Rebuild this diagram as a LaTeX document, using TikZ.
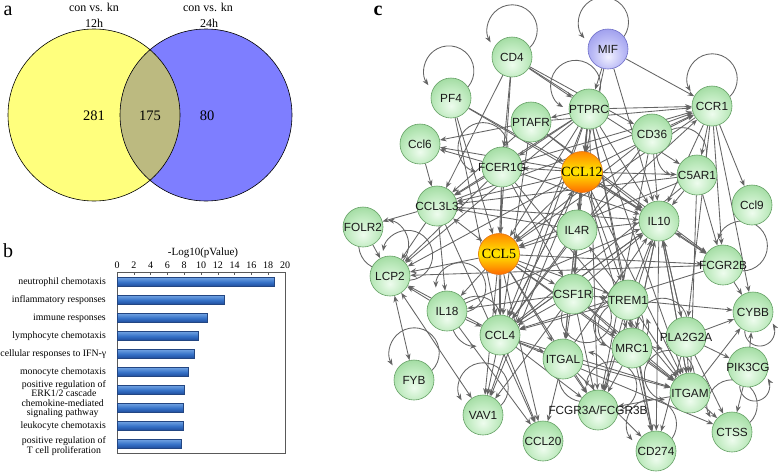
\documentclass[tikz,border=0pt]{standalone}
\usepackage{fontspec}
\setmainfont{Liberation Serif}
\newfontfamily\arialf{Liberation Sans}
\usetikzlibrary{arrows.meta,calc}
\definecolor{edgec}{RGB}{100,100,100}
\definecolor{gc0}{RGB}{238,252,238}
\definecolor{gc1}{RGB}{190,234,190}
\definecolor{gc2}{RGB}{136,206,136}
\definecolor{gborder}{RGB}{100,160,100}
\definecolor{bc0}{RGB}{240,240,255}
\definecolor{bc1}{RGB}{185,185,245}
\definecolor{bc2}{RGB}{135,135,230}
\definecolor{bborder}{RGB}{110,110,200}
\definecolor{otop}{RGB}{255,135,0}
\definecolor{omid}{RGB}{255,232,0}
\definecolor{obot}{RGB}{255,105,0}
\definecolor{oborder}{RGB}{225,115,20}
\definecolor{vyellow}{RGB}{255,255,125}
\definecolor{vblue}{RGB}{126,126,255}
\definecolor{volive}{RGB}{188,186,128}
\definecolor{barlight}{RGB}{110,160,225}
\definecolor{barmid}{RGB}{55,115,200}
\definecolor{bardark}{RGB}{30,75,155}
\definecolor{barborder}{RGB}{35,70,130}
\pgfdeclareradialshading{gball}{\pgfpoint{0bp}{-10bp}}{color(0bp)=(gc0); color(20bp)=(gc1); color(42bp)=(gc2); color(70bp)=(gc2)}
\pgfdeclareradialshading{bball}{\pgfpoint{0bp}{-10bp}}{color(0bp)=(bc0); color(20bp)=(bc1); color(42bp)=(bc2); color(70bp)=(bc2)}
\pgfdeclarelayer{bg}
\pgfsetlayers{bg,main}
\tikzset{
  edge/.style={draw=edgec, line width=0.85pt, -{Stealth[length=6.5pt,width=5pt]}},
  bedge/.style={draw=edgec, line width=0.85pt, {Stealth[length=6.5pt,width=5pt]}-{Stealth[length=6.5pt,width=5pt]}},
  lab/.style={font=\arialf\fontsize{11.8}{12}\selectfont, text=black!90, inner sep=0pt},
  slab/.style={font=\fontsize{14}{14}\selectfont, text=black, inner sep=0pt},
  gnode/.style={circle, minimum size=40pt, inner sep=0pt, draw=gborder, line width=0.6pt, shading=gball, label={[lab]center:#1}},
  bnode/.style={circle, minimum size=40pt, inner sep=0pt, draw=bborder, line width=0.6pt, shading=bball, label={[lab]center:#1}},
  onode/.style={circle, minimum size=41pt, inner sep=0pt, draw=oborder, line width=0.6pt, top color=otop, bottom color=obot, middle color=omid, label={[slab]center:#1}},
  vtxt/.style={font=\fontsize{12}{12}\selectfont, inner sep=0pt},
  vnum/.style={font=\fontsize{14.5}{14.5}\selectfont, inner sep=0pt},
  blab/.style={font=\fontsize{9.8}{9.6}\selectfont, inner sep=0pt, align=center, anchor=east},
  tlab/.style={font=\fontsize{10}{10}\selectfont, inner sep=0pt},
  plabel/.style={font=\fontsize{20}{20}\selectfont, inner sep=0pt, anchor=base},
}
\begin{document}
\begin{tikzpicture}[x=1pt,y=1pt]
\useasboundingbox (0,0) rectangle (778,-472);
\begin{pgfonlayer}{bg}
\fill[white] (0,0) rectangle (778,-472);
\end{pgfonlayer}
% ---------- panel a ----------
\node[plabel] (la) at (8,-15) {a};
\fill[vyellow] (94,-115) circle (86);
\fill[vblue] (206,-115) circle (86);
\begin{scope}
  \clip (94,-115) circle (86);
  \fill[volive] (206,-115) circle (86);
\end{scope}
\draw[line width=0.6pt] (94,-115) circle (86);
\draw[line width=0.6pt] (206,-115) circle (86);
\node[vtxt] (ta1) at (94,-7) {con vs. kn};
\node[vtxt] (ta2) at (94,-23) {12h};
\node[vtxt] (tb1) at (208,-7) {con vs. kn};
\node[vtxt] (tb2) at (209,-23) {24h};
\node[vnum] (n1) at (94,-116) {281};
\node[vnum] (n2) at (150,-116) {175};
\node[vnum] (n3) at (207,-116) {80};
% ---------- panel b ----------
\node[plabel] (lb) at (8,-257) {b};
\node[font=\fontsize{11}{11}\selectfont, inner sep=0pt] (axt) at (203,-253) {-Log10(pValue)};
\foreach \t in {0,2,...,20}{
  \node[tlab] at ({117+8.4*\t},-265) {\t};
  \draw[gray!70!black, line width=0.5pt] ({117+8.4*\t},-272) -- ++(0,-2.5);
}
\draw[gray!70!black, line width=0.6pt] (117,-272) rectangle (285,-453);
\foreach \v/\y in {18.7/282, 12.8/300, 10.7/318, 9.7/336, 9.2/354, 8.5/372, 8.0/390, 7.9/408, 7.9/426, 7.6/444}{
  \shade[top color=barlight, bottom color=bardark, middle color=barmid, draw=barborder, line width=0.4pt] (117,{-\y+4.4}) rectangle ({117+8.4*\v},{-\y-4.4});
}
\node[blab] (b1) at (106,-282) {neutrophil chemotaxis};
\node[blab] (b2) at (106,-300) {inflammatory responses};
\node[blab] (b3) at (106,-318) {immune responses};
\node[blab] (b4) at (106,-336) {lymphocyte chemotaxis};
\node[blab] (b5) at (106.5,-354) {cellular responses to IFN-γ};
\node[blab] (b6) at (106,-372) {monocyte chemotaxis};
\node[blab] (b7) at (106,-388.5) {positive regulation of\\ERK1/2 cascade};
\node[blab] (b8) at (104,-408.5) {chemokine-mediated\\signaling pathway};
\node[blab] (b9) at (106,-426) {leukocyte chemotaxis};
\node[blab] (b10) at (106,-446) {positive regulation of\\T cell proliferation};
% ---------- panel c ----------
\node[plabel, font=\bfseries\fontsize{20}{20}\selectfont] (lc) at (378,-15) {c};
\node[bnode=MIF] (mif) at (608,-49) {};
\node[gnode=CD4] (cd4) at (512,-57) {};
\node[gnode=PF4] (pf4) at (451,-98) {};
\node[gnode=PTPRC] (ptprc) at (589,-109) {};
\node[gnode=CCR1] (ccr1) at (712,-106) {};
\node[gnode=PTAFR] (ptafr) at (531,-122) {};
\node[gnode=CD36] (cd36) at (652,-134) {};
\node[gnode=Ccl6] (ccl6) at (420,-144) {};
\node[gnode=FCER1G] (fcer1g) at (502,-167) {};
\node[onode=CCL12] (ccl12) at (582,-172) {};
\node[gnode=C5AR1] (c5ar1) at (697,-175) {};
\node[gnode=Ccl9] (ccl9) at (752,-205) {};
\node[gnode=CCL3L3] (ccl3l3) at (437,-206) {};
\node[gnode=IL10] (il10) at (659,-221) {};
\node[gnode=FOLR2] (folr2) at (363,-227) {};
\node[gnode=IL4R] (il4r) at (577,-230) {};
\node[onode=CCL5] (ccl5) at (499,-254) {};
\node[gnode=FCGR2B] (fcgr2b) at (723,-265) {};
\node[gnode=LCP2] (lcp2) at (390,-276) {};
\node[gnode=CSF1R] (csf1r) at (573,-294) {};
\node[gnode=TREM1] (trem1) at (628,-300) {};
\node[gnode=IL18] (il18) at (447,-311) {};
\node[gnode=CYBB] (cybb) at (753,-312) {};
\node[gnode=CCL4] (ccl4) at (500,-335) {};
\node[gnode=PLA2G2A] (pla2g2a) at (686,-337) {};
\node[gnode=MRC1] (mrc1) at (632,-348) {};
\node[gnode=ITGAL] (itgal) at (563,-359) {};
\node[gnode=PIK3CG] (pik3cg) at (748,-367) {};
\node[gnode=FYB] (fyb) at (414,-380) {};
\node[gnode=ITGAM] (itgam) at (690,-393) {};
\node[gnode=FCGR3A/FCGR3B] (fcgr3) at (598,-410) {};
\node[gnode=VAV1] (vav1) at (483,-415) {};
\node[gnode=CCL20] (ccl20) at (543,-441) {};
\node[gnode=CTSS] (ctss) at (732,-432) {};
\node[gnode=CD274] (cd274) at (656,-451) {};
\begin{pgfonlayer}{bg}
\foreach \a/\b in {mif/ptprc, mif/ccr1, mif/il10, mif/ccl12,
 cd4/ccl5, cd4/ccl3l3, cd4/cd36, cd4/c5ar1, cd4/ptprc, cd4/fcer1g,
 pf4/ccl12, pf4/ccl4, pf4/ccl5, pf4/il10,
 ptprc/ccr1, ptprc/ccl12, ptprc/ccl5, ptprc/fcer1g, ptprc/ccl3l3, ptprc/il10, ptprc/il4r, ptprc/csf1r, ptprc/ccl4, ptprc/itgal, ptprc/lcp2, ptprc/trem1, ptprc/itgam, ptprc/ptafr, ptprc/cd274, ptprc/fcgr3, ptprc/vav1,
 ptafr/ccl6, ptafr/ccl3l3, ptafr/ccr1, ptafr/il10, ptafr/ccl4, ptafr/fcgr2b,
 cd36/ccr1, cd36/il10, cd36/ccl5, cd36/ccl4, cd36/fcgr3,
 fcer1g/ccl6, fcer1g/ccl3l3, fcer1g/ccl5, fcer1g/lcp2, fcer1g/ccr1, fcer1g/il10, fcer1g/ccl4, fcer1g/itgam, fcer1g/csf1r,
 ccl12/il10, ccl12/il4r, ccl12/ccl5, ccl12/ccl4, ccl12/csf1r, ccl12/fcer1g, ccl12/ccl3l3, ccl12/ccl6, ccl12/c5ar1, ccl12/fcgr2b, ccl12/trem1, ccl12/itgam, ccl12/lcp2, ccl12/mrc1, ccl12/ccr1, ccl12/vav1, ccl12/itgal,
 ccl6/ccl3l3,
 c5ar1/fcgr2b, c5ar1/il10, c5ar1/ccl5, c5ar1/ccl4, c5ar1/ccl3l3, c5ar1/itgam,
 ccr1/ccl9, ccr1/fcgr2b, ccr1/il10, ccr1/c5ar1, ccr1/cybb, ccr1/pla2g2a, ccr1/ccl5,
 ccl3l3/folr2, ccl3l3/lcp2, ccl3l3/il18, ccl3l3/ccl20, ccl3l3/il10, ccl3l3/ccr1,
 folr2/lcp2,
 il4r/il10, il4r/ccl4, il4r/csf1r, il4r/ccl3l3, il4r/ccr1, il4r/ccl5,
 ccl5/lcp2, ccl5/ccl4, ccl5/csf1r, ccl5/itgal, ccl5/fcgr3, ccl5/vav1, ccl5/il18, ccl5/ccl20, ccl5/trem1, ccl5/itgam, ccl5/fcgr2b, ccl5/mrc1,
 fcgr2b/lcp2, fcgr2b/cybb, fcgr2b/ccl4,
 il18/ccl4, il18/ccl20, il18/il10, il18/lcp2,
 csf1r/itgal, csf1r/fcgr3, csf1r/mrc1, csf1r/il10, csf1r/ccl4, csf1r/itgam, csf1r/vav1, csf1r/il18, csf1r/trem1,
 trem1/mrc1, trem1/itgam, trem1/il10, trem1/cd274, trem1/ccl4, trem1/fcgr3, trem1/cybb, trem1/il4r,
 ccl4/vav1, ccl4/itgal, ccl4/itgam, ccl4/fcgr3, ccl4/il10, ccl4/ccl12, ccl4/lcp2, ccl4/ccl20, ccl4/ctss,
 mrc1/itgam, mrc1/cd274, mrc1/il10, mrc1/fcgr3,
 itgal/itgam, itgal/il10, itgal/fcgr3, itgal/ccl20, itgal/cd274,
 pla2g2a/itgam, pla2g2a/ctss, pla2g2a/cybb, pla2g2a/il10, pla2g2a/pik3cg, pla2g2a/cd274,
 itgam/fcgr3, itgam/ctss, itgam/cybb, itgam/il10,
 pik3cg/ctss, pik3cg/cybb,
 il10/cd274, il10/pla2g2a, il10/itgam, il10/fcgr3, il10/mrc1, il10/ccl4}{
  \draw[edge] (\a) -- (\b);
}
\foreach \a/\b in {il10/fcgr2b, ccl3l3/ccl5, lcp2/fyb, lcp2/vav1}{
  \draw[bedge] (\a) -- (\b);
}
\foreach \n/\p in {mif/100, cd4/90, pf4/95, ccr1/90, ptprc/120, c5ar1/125, fcer1g/135, fcgr2b/45, ctss/90, cd274/100, fcgr3/60, fyb/90, vav1/90, folr2/-40, lcp2/50, il18/60, csf1r/-60, trem1/-100, mrc1/120, pla2g2a/150, itgam/140, ccl4/150, itgal/-40}{
  \pgfmathtruncatemacro\la{mod(\p-62+720,360)}
  \pgfmathtruncatemacro\lb{\p-135}
  \pgfmathtruncatemacro\lc{\p+120}
  \draw[edge] (\n.\la) arc[start angle=\lb, end angle=\lc, radius=25pt];
}
\foreach \n/\p in {cybb/-70, pik3cg/-70}{
  \pgfmathtruncatemacro\la{mod(\p-44+720,360)}
  \pgfmathtruncatemacro\lb{\p-112}
  \pgfmathtruncatemacro\lc{\p+100}
  \draw[edge] (\n.\la) arc[start angle=\lb, end angle=\lc, radius=15pt];
}
\end{pgfonlayer}
\end{tikzpicture}
\end{document}
